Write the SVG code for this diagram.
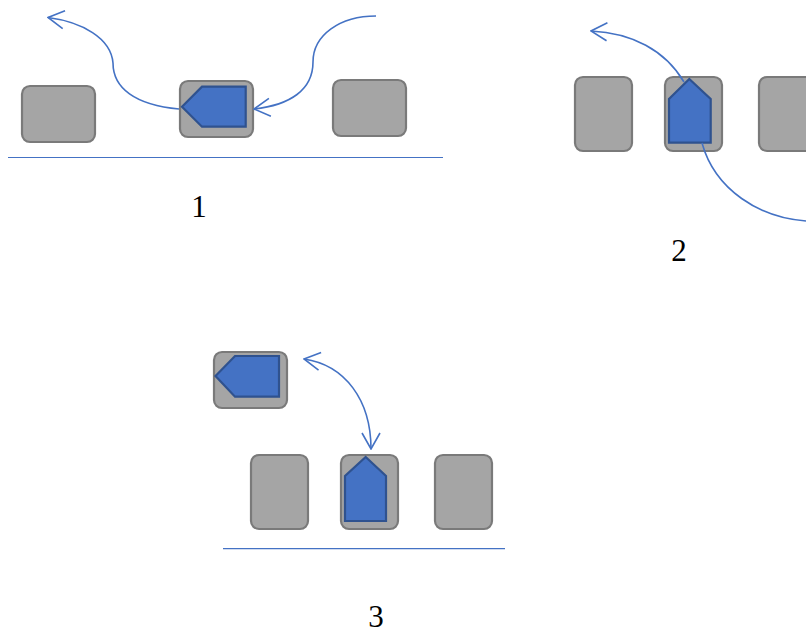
<svg xmlns="http://www.w3.org/2000/svg" width="806" height="633" viewBox="0 0 806 633">
<defs>
<style>
.box{fill:#a5a5a5;stroke:#7a7a7a;stroke-width:2.2}
.tok{fill:#4472c4;stroke:#2f528f;stroke-width:2.2;stroke-linejoin:miter}
.base{stroke:#4472c4;stroke-width:1.2;fill:none}
.conn{fill:none;stroke:#4472c4;stroke-width:1.6}
.lbl{font-family:"Liberation Serif","Times New Roman",serif;font-size:31px;fill:#000;text-anchor:middle}
</style>
<marker id="arr" viewBox="0 0 20 20" refX="19" refY="10" markerWidth="20" markerHeight="20" markerUnits="userSpaceOnUse" orient="auto-start-reverse">
<path d="M3,1 L19,10 L3,19" fill="none" stroke="#4472c4" stroke-width="1.6"/>
</marker>
</defs>
<rect width="806" height="633" fill="#fff"/>

<g id="panel1">
<line class="base" x1="8" y1="157.5" x2="443" y2="157.5"/>
<g id="p1-box-left"><rect class="box" x="22" y="86" width="73" height="56" rx="8"/></g>
<g id="p1-box-mid"><rect class="box" x="180" y="81" width="73" height="56" rx="8"/>
<polygon class="tok" points="182,106.7 202,86.7 245.7,86.7 245.7,126.7 202,126.7"/></g>
<g id="p1-box-right"><rect class="box" x="333" y="80" width="73" height="56" rx="8"/></g>
<text class="lbl" x="199" y="217">1</text>
</g>

<g id="panel2">
<g id="p2-box-1"><rect class="box" x="575" y="77" width="57" height="74" rx="8"/></g>
<g id="p2-box-2"><rect class="box" x="665" y="77" width="57" height="74" rx="8"/>
<polygon class="tok" points="689.3,79 710.7,99 710.7,142.7 669,142.7 669,99"/></g>
<g id="p2-box-3"><rect class="box" x="759" y="77" width="57" height="74" rx="8"/></g>
<text class="lbl" x="679" y="261">2</text>
</g>

<g id="panel3">
<line class="base" x1="223" y1="548.7" x2="505" y2="548.7"/>
<g id="p3-box-top"><rect class="box" x="214" y="352" width="73" height="56" rx="8"/>
<polygon class="tok" points="215.5,376 235,356 279,356 279,396.7 235,396.7"/></g>
<g id="p3-box-1"><rect class="box" x="251" y="455" width="57" height="74" rx="8"/></g>
<g id="p3-box-2"><rect class="box" x="341" y="455" width="57" height="74" rx="8"/>
<polygon class="tok" points="365.7,457 386,476 386,521 345,521 345,476"/></g>
<g id="p3-box-3"><rect class="box" x="435" y="455" width="57" height="74" rx="8"/></g>
<text class="lbl" x="376" y="627">3</text>
</g>

<g id="connectors">
<path class="conn" d="M179,109 C135,105 113,88 113,63 C111,38 82,22 48,17.5" marker-end="url(#arr)"/>
<path class="conn" d="M376,16 C340,16 313,35 313,62 C313,90 290,105 254,109" marker-end="url(#arr)"/>
<path class="conn" d="M684,82 C665,50 632,33 591,31" marker-end="url(#arr)"/>
<path class="conn" d="M702,143 C715,190 760,218 806,221"/>
<path class="conn" d="M304,359 C345,365 371,400 371,449" marker-start="url(#arr)" marker-end="url(#arr)"/>
</g>
</svg>
